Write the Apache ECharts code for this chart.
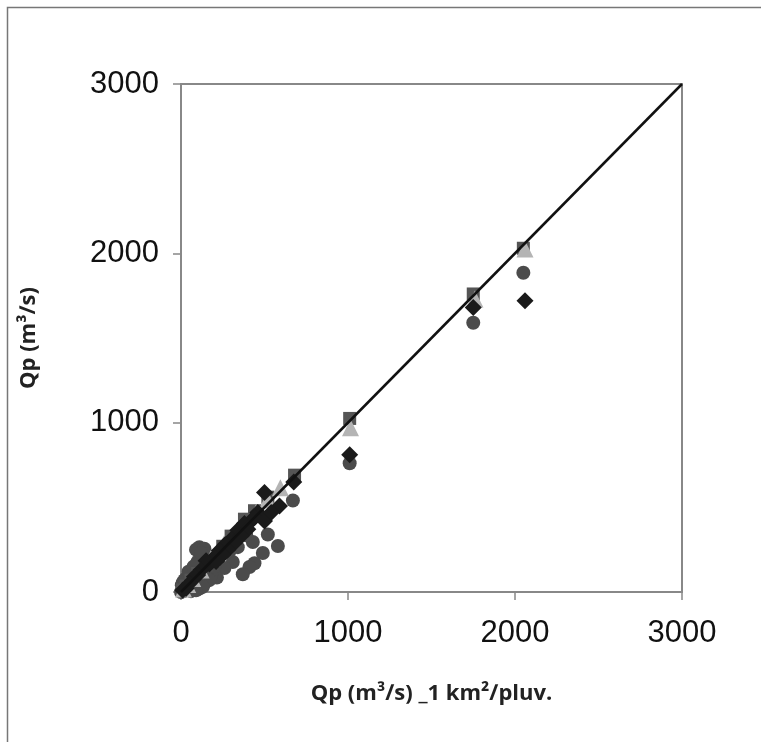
<!DOCTYPE html>
<html>
<head>
<meta charset="utf-8">
<script src="https://cdn.jsdelivr.net/npm/echarts@6/dist/echarts.min.js"></script>
<style>
  html, body { margin: 0; padding: 0; background: #fff; }
  #chart { width: 761px; height: 742px; }
</style>
</head>
<body>
<div id="chart"></div>
<script>
// Qp computed vs Qp with 1 km2 per rain gauge (m3/s)
const squares = [
  [2050, 2030], [1750, 1760], [1010, 1025], [680, 690], [520, 560], [440, 480],
  [380, 430], [300, 330], [250, 270], [150, 160], [100, 110], [60, 70], [30, 35], [10, 12]
]
const triangles = [
  [2060, 2025], [1760, 1730], [1015, 970], [595, 615], [520, 545], [450, 470],
  [325, 340], [260, 290], [180, 200], [120, 130], [70, 80], [40, 45], [15, 18]
]
const diamonds = [
  [2060, 1720], [1750, 1680], [1010, 810], [675, 650], [500, 588], [590, 508],
  [460, 470], [420, 420], [380, 405], [340, 365], [300, 310], [265, 280], [230, 245],
  [200, 205], [170, 165], [150, 185], [120, 130], [100, 100], [80, 90], [50, 50],
  [30, 20], [10, 10], [400, 370], [360, 330], [320, 290], [280, 250], [440, 440],
  [500, 420], [540, 470], [250, 220], [210, 180]
]
const circles = [
  [2050, 1885], [1750, 1590], [1010, 760], [670, 540], [520, 340], [455, 468],
  [380, 385], [430, 295], [580, 272], [340, 265], [490, 230], [440, 170], [410, 148],
  [370, 105], [310, 177], [260, 142], [215, 85], [110, 265], [90, 250], [140, 255],
  [130, 200], [160, 180], [120, 150], [80, 120], [60, 90], [40, 60], [20, 30],
  [10, 10], [30, 80], [50, 40], [70, 60], [100, 80], [130, 100], [150, 120],
  [90, 30], [60, 20], [30, 10], [5, 40], [20, 70], [140, 50], [180, 100],
  [110, 40], [200, 150], [170, 70], [0, 0], [15, 5], [40, 25], [70, 35], [100, 55],
  [25, 50], [50, 100], [80, 70], [110, 20], [130, 30], [60, 5], [90, 10], [10, 55],
  [45, 120], [75, 150], [100, 180], [150, 225], [120, 230], [390, 335], [290, 240]
]
const lineXY = [[0, 0], [3000, 3000]]
const ticks = [0, 1000, 2000, 3000]

const chart = echarts.init(document.getElementById('chart'))

const axisCommon = {
  type: 'value',
  min: ticks[0],
  max: ticks[ticks.length - 1],
  interval: 1000,
  axisLine: { show: true, lineStyle: { color: '#888', width: 2 } },
  axisTick: { show: true, inside: false, length: 8, lineStyle: { color: '#888', width: 1.5 } },
  axisLabel: { color: '#111', fontSize: 31, fontFamily: 'Liberation Sans', formatter: v => String(v) },
  splitLine: { show: false },
  nameLocation: 'middle',
  nameTextStyle: { color: '#222', fontSize: 22, fontWeight: 'bold', fontFamily: 'Open Sans' },
}

chart.setOption({
  animation: false,
  backgroundColor: '#fff',
  grid: {
    left: 181, top: 84, right: 79, bottom: 150,
    show: true, borderColor: '#888', borderWidth: 2,
  },
  graphic: [{
    type: 'rect',
    shape: { x: 7.5, y: 7.5, width: 900, height: 900 },
    style: { fill: null, stroke: '#777', lineWidth: 1.5 },
  }],
  xAxis: {
    ...axisCommon,
    name: 'Qp (m³∕s) _1 km²∕pluv.',
    nameGap: 91,
    axisLabel: { ...axisCommon.axisLabel, margin: 26 },
  },
  yAxis: {
    ...axisCommon,
    name: 'Qp (m³∕s)',
    nameGap: 141,
    axisLabel: { ...axisCommon.axisLabel, margin: 22 },
  },
  series: [
    { type: 'scatter', data: circles, symbol: 'circle', symbolSize: 14,
      itemStyle: { color: '#4b4b4b', opacity: 1 } },
    { type: 'scatter', data: squares, symbol: 'rect', symbolSize: 13,
      itemStyle: { color: '#555', opacity: 1 } },
    { type: 'scatter', data: triangles, symbol: 'triangle', symbolSize: 17,
      itemStyle: { color: '#b4b4b4', opacity: 1 } },
    { type: 'scatter', data: diamonds, symbol: 'diamond', symbolSize: 17,
      itemStyle: { color: '#1a1a1a', opacity: 1 } },
    { type: 'line', data: lineXY, symbol: 'none',
      lineStyle: { color: '#111', width: 2.5 } },
  ],
})
</script>
</body>
</html>
